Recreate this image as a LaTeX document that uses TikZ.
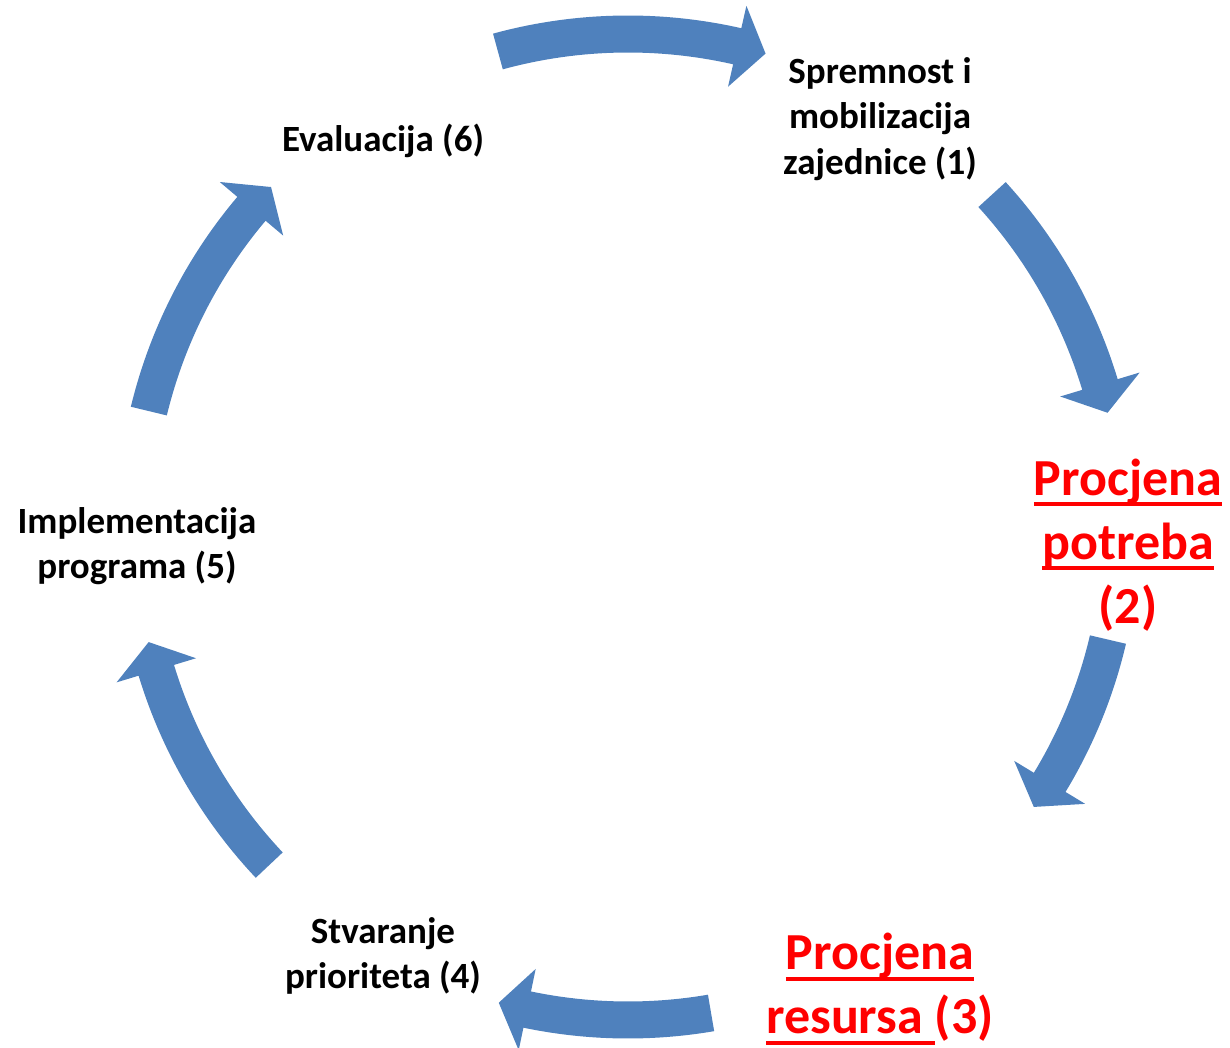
\documentclass[tikz,border=0pt]{standalone}
\usepackage{fontspec}
\setmainfont{Carlito}
\usepackage{tikz}
\definecolor{cycblue}{RGB}{79,129,189}
\newcommand{\ulin}[1]{\setbox0=\hbox{#1}\rlap{\rule[-0.21em]{\wd0}{0.075em}}\box0}

\begin{document}
\begin{tikzpicture}[x=1pt,y=1pt,
  lbl/.style={inner sep=0pt, align=center, font=\fontsize{37}{45.5}\selectfont\bfseries},
  redlbl/.style={inner sep=0pt, align=center, text=red, font=\fontsize{52}{64}\selectfont\bfseries}]
\useasboundingbox (0,0) rectangle (1230,1047);
\coordinate (cen) at (628,520);
%Arrows
\foreach \a/\b in {105.3/73.8, 42.4/13.4, -13.2/-34.6, -80.3/-105.2, 223.3/193.5, 166.4/136.4}{
  \pgfmathsetmacro{\h}{\b+3.4}
  \fill[cycblue,shift={(cen)}] (\a:511.5) arc[start angle=\a, end angle=\h, radius=511.5]
    -- (\h:534.5) -- (\b:493) -- (\h:451.5) -- (\h:474.5)
    arc[start angle=\h, end angle=\a, radius=474.5] -- cycle;
}
%Text
\draw (880,928) node (sprem) [lbl] {Spremnost i\\mobilizacija\\zajednice (1)};
\draw (1128,502) node (potr) [redlbl] {\ulin{Procjena}\\\ulin{potreba}\\(2)};
\draw (880,58) node (resu) [redlbl] {\ulin{Procjena}\\\ulin{resursa\ }(3)};
\draw (383,91) node (prio) [lbl] {Stvaranje\\prioriteta (4)};
\draw (137,501) node (impl) [lbl] {Implementacija\\programa (5)};
\draw (383,906) node (eval) [lbl] {Evaluacija (6)};
\end{tikzpicture}
\end{document}
